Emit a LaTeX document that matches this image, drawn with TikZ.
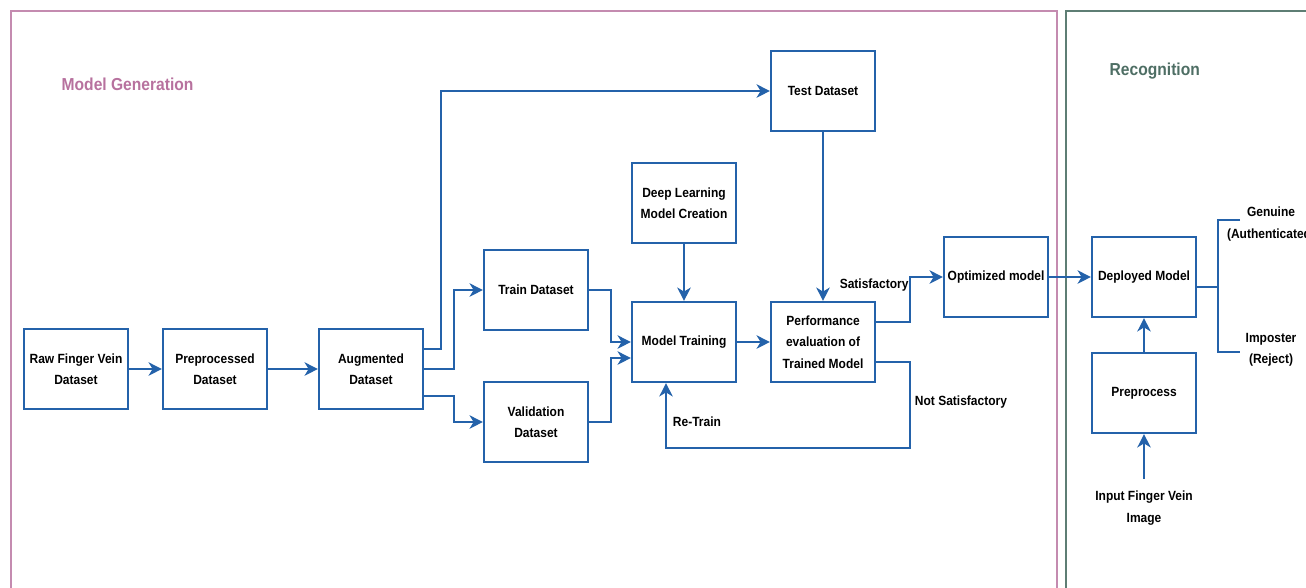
\documentclass[tikz,border=0pt]{standalone}
\usepackage{fontspec}
\setmainfont{Liberation Sans}[FakeStretch=0.9]
\usepackage{tikz}
\usetikzlibrary{positioning,calc,arrows.meta}
\definecolor{boxblue}{HTML}{2462AA}
\definecolor{genpink}{HTML}{C48BB0}
\definecolor{gentext}{HTML}{B7719E}
\definecolor{recgreen}{HTML}{5E7E74}
\definecolor{rectext}{HTML}{4E6E64}
\tikzset{
  block/.style={draw=boxblue,line width=1.6pt,fill=white,minimum width=78pt,minimum height=60pt,align=center,inner sep=2pt,font=\fontsize{10}{16}\selectfont\bfseries},
  flow/.style={draw=boxblue,line width=1.6pt,-{Stealth[length=10pt,width=10pt,inset=3pt]}},
  plain line/.style={draw=boxblue,line width=1.6pt},
  tag/.style={align=center,inner sep=2pt,font=\fontsize{10}{16}\selectfont\bfseries}
}
\begin{document}
\begin{tikzpicture}[x=0.75pt,y=-0.75pt]
\useasboundingbox (0,0) rectangle (1306,587);
\clip (0,0) rectangle (1306,587);
\draw[genpink,line width=2pt] (11,11) rectangle (1057,620);
\draw[recgreen,line width=2pt] (1066,11) rectangle (1340,620);
\node[anchor=west,text=gentext,font=\fontsize{13}{16}\selectfont\bfseries] (gen title) at (57,84) {Model Generation};
\node[anchor=west,text=rectext,font=\fontsize{13}{16}\selectfont\bfseries] (rec title) at (1105,71) {Recognition};

\node[block] (raw) at (76,369) {Raw Finger Vein\\Dataset};
\node[block] (prep) at (215,369) {Preprocessed\\Dataset};
\node[block] (aug) at (371,369) {Augmented\\Dataset};
\node[block] (train) at (536,290) {Train Dataset};
\node[block] (val) at (536,422) {Validation\\Dataset};
\node[block] (dl) at (684,203) {Deep Learning\\Model Creation};
\node[block] (mt) at (684,342) {Model Training};
\node[block] (test) at (823,91) {Test Dataset};
\node[block] (perf) at (823,342) {Performance\\evaluation of\\Trained Model};
\node[block] (opt) at (996,277) {Optimized model};
\node[block] (dep) at (1144,277) {Deployed Model};
\node[block] (pre) at (1144,393) {Preprocess};
\node[tag,inner xsep=0pt,inner ysep=9pt] (inp) at (1144,508) {Input Finger Vein\\Image};
\node[tag] (genuine) at (1271,224) {Genuine\\(Authenticated)};
\node[tag] (imposter) at (1271,350) {Imposter\\(Reject)};

\draw[flow] (raw) -- (prep);
\draw[flow] (prep) -- (aug);
\draw[flow] ($(aug.east)+(0,-20)$) -- ++(17,0) |- (test.west);
\draw[flow] (aug.east) -- ++(30,0) |- (train.west);
\draw[flow] ($(aug.east)+(0,27)$) -- ++(30,0) |- (val.west);
\draw[flow] (train.east) -- ++(22,0) |- (mt.west);
\draw[flow] (val.east) -- ++(22,0) |- ($(mt.west)+(0,16)$);
\draw[flow] (dl) -- (mt);
\draw[flow] (test) -- (perf);
\draw[flow] (mt) -- (perf);
\draw[flow] ($(perf.east)+(0,-20)$) -- ++(34,0) coordinate (sat) |- (opt.west);
\node[tag,anchor=north east,inner sep=1pt] (sat label) at (sat |- opt.west) {Satisfactory};
\draw[flow] ($(perf.east)+(0,20)$) -- ++(34,0) coordinate (nsat) -- ++(0,86) -| ($(mt.south)+(-18,0)$);
\node[tag,anchor=west] (nsat label) at (912,402) {Not Satisfactory};
\node[tag,anchor=west] (retrain) at (670,422) {Re-Train};
\draw[flow] (opt) -- (dep);
\draw[flow] (pre) -- (dep);
\draw[flow] (inp) -- (pre);

\coordinate (fork) at ($(dep.east)+(21,10)$);
\coordinate (gen tip) at (1240,220);
\coordinate (imp tip) at (1240,352);
\draw[plain line] ($(dep.east)+(0,10)$) -- (fork);
\draw[plain line] (gen tip) -| (fork) |- (imp tip);
\end{tikzpicture}
\end{document}
